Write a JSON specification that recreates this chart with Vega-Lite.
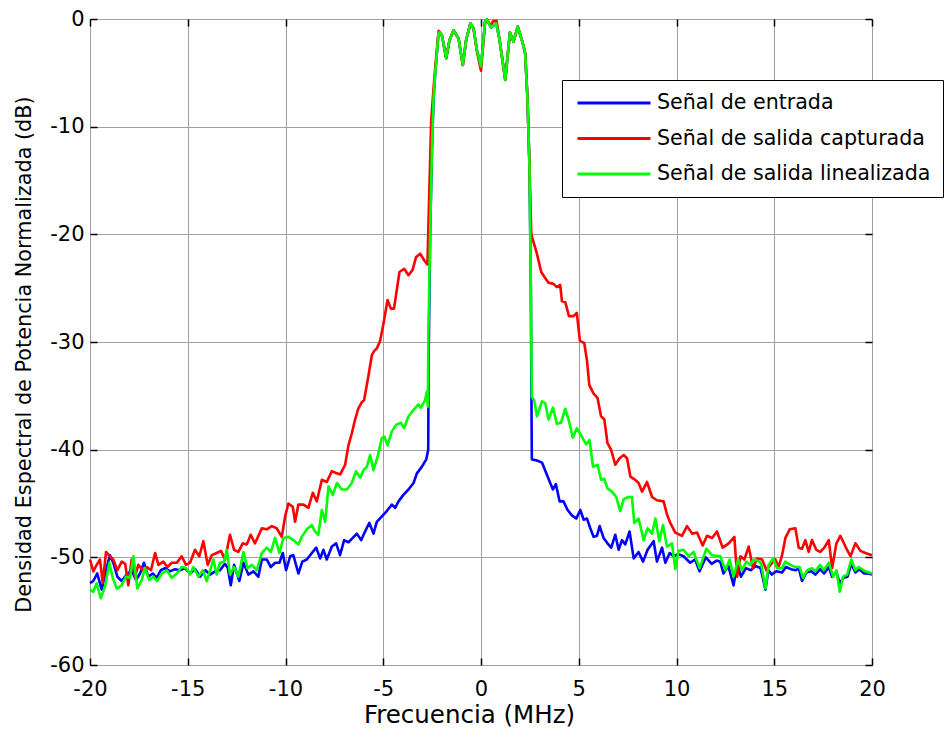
{
"$schema": "https://vega.github.io/schema/vega-lite/v6.json",
"width": 782, "height": 646,
"autosize": {"type": "none"},
"padding": {"left": 90, "top": 19, "right": 72, "bottom": 66},
"background": "white",
"config": {
  "view": {"stroke": "#000", "strokeWidth": 1},
  "font": "DejaVu Sans",
  "axis": {"labelFont": "DejaVu Sans", "titleFont": "DejaVu Sans", "labelColor": "#000", "titleColor": "#000", "titleFontWeight": "normal", "tickColor": "#000"},
  "legend": {"orient": "none", "legendX": 472, "legendY": 61, "symbolType": "M-4,0H4", "symbolSize": 333, "symbolStrokeWidth": 3, "labelFont": "DejaVu Sans", "labelFontSize": 20.6, "labelColor": "#000", "labelOffset": 32, "rowPadding": 13.5, "padding": 12, "symbolOffset": 29, "strokeColor": "#000", "fillColor": "#fff", "labelLimit": 500}
},
"datasets": {
"entrada": [
{"f":-20,"p":-52.4},{"f":-19.83,"p":-52.2},{"f":-19.63,"p":-51.5},{"f":-19.4,"p":-53.0},{"f":-19.18,"p":-51.2},{"f":-18.98,"p":-49.8},{"f":-18.81,"p":-50.5},{"f":-18.6,"p":-51.8},{"f":-18.38,"p":-52.2},{"f":-18.12,"p":-51.6},{"f":-17.87,"p":-51.2},{"f":-17.65,"p":-52.1},{"f":-17.44,"p":-51.5},{"f":-17.24,"p":-50.5},{"f":-17.02,"p":-51.8},{"f":-16.79,"p":-51.5},{"f":-16.59,"p":-51.9},{"f":-16.38,"p":-51.2},{"f":-16.16,"p":-51.0},{"f":-15.91,"p":-51.3},{"f":-15.65,"p":-51.1},{"f":-15.39,"p":-51.2},{"f":-15.15,"p":-51.0},{"f":-14.88,"p":-51.5},{"f":-14.62,"p":-51.1},{"f":-14.37,"p":-51.8},{"f":-14.1,"p":-51.2},{"f":-13.86,"p":-51.6},{"f":-13.6,"p":-51.3},{"f":-13.35,"p":-51.2},{"f":-13.1,"p":-50.6},{"f":-12.95,"p":-51.0},{"f":-12.8,"p":-52.6},{"f":-12.63,"p":-50.7},{"f":-12.36,"p":-52.2},{"f":-12.15,"p":-50.5},{"f":-11.9,"p":-51.6},{"f":-11.64,"p":-51.3},{"f":-11.39,"p":-51.8},{"f":-11.21,"p":-50.2},{"f":-10.96,"p":-50.2},{"f":-10.75,"p":-50.9},{"f":-10.53,"p":-50.5},{"f":-10.31,"p":-50.5},{"f":-10.14,"p":-49.6},{"f":-9.97,"p":-51.2},{"f":-9.76,"p":-49.9},{"f":-9.6,"p":-49.8},{"f":-9.34,"p":-51.5},{"f":-9.14,"p":-50.4},{"f":-8.91,"p":-50.2},{"f":-8.65,"p":-49.6},{"f":-8.43,"p":-49.1},{"f":-8.23,"p":-50.1},{"f":-8.06,"p":-49.3},{"f":-7.89,"p":-50.2},{"f":-7.63,"p":-49.0},{"f":-7.41,"p":-48.7},{"f":-7.21,"p":-49.8},{"f":-7.0,"p":-48.4},{"f":-6.78,"p":-48.6},{"f":-6.56,"p":-48.2},{"f":-6.35,"p":-47.8},{"f":-6.13,"p":-48.4},{"f":-5.93,"p":-47.6},{"f":-5.71,"p":-46.8},{"f":-5.5,"p":-47.8},{"f":-5.33,"p":-46.7},{"f":-5.07,"p":-46.2},{"f":-4.82,"p":-45.7},{"f":-4.56,"p":-45.1},{"f":-4.39,"p":-45.4},{"f":-4.22,"p":-44.8},{"f":-3.97,"p":-44.2},{"f":-3.71,"p":-43.7},{"f":-3.45,"p":-43.1},{"f":-3.28,"p":-42.2},{"f":-3.03,"p":-41.6},{"f":-2.8,"p":-40.9},{"f":-2.7,"p":-40.0},{"f":-2.68,"p":-32.0},{"f":-2.6,"p":-19.9},{"f":-2.51,"p":-12.2},{"f":-2.43,"p":-7.5},{"f":-2.34,"p":-5.0},
{"f":-2.17,"p":-1.24},{"f":-2.0,"p":-1.5},{"f":-1.78,"p":-3.65},{"f":-1.61,"p":-1.95},{"f":-1.4,"p":-1.05},{"f":-1.15,"p":-1.8},{"f":-0.93,"p":-4.27},{"f":-0.76,"p":-1.95},{"f":-0.54,"p":-0.4},{"f":-0.38,"p":-0.87},{"f":-0.21,"p":-2.88},{"f":0.0,"p":-4.4},{"f":0.21,"p":-0.2},{"f":0.3,"p":-0.05},{"f":0.52,"p":-0.8},{"f":0.78,"p":-0.4},{"f":0.95,"p":-1.95},{"f":1.24,"p":-5.66},{"f":1.48,"p":-1.25},{"f":1.66,"p":-2.1},{"f":1.88,"p":-0.7},{"f":2.14,"p":-2.26},{"f":2.26,"p":-3.2},
{"f":2.38,"p":-7.5},{"f":2.48,"p":-13.7},{"f":2.55,"p":-25.0},{"f":2.58,"p":-35.0},{"f":2.6,"p":-40.9},{"f":2.86,"p":-41.0},{"f":3.12,"p":-41.2},{"f":3.34,"p":-42.2},{"f":3.54,"p":-43.1},{"f":3.68,"p":-43.7},{"f":3.83,"p":-43.2},{"f":4.02,"p":-44.8},{"f":4.22,"p":-44.8},{"f":4.43,"p":-45.6},{"f":4.65,"p":-46.1},{"f":4.87,"p":-46.4},{"f":5.08,"p":-45.6},{"f":5.25,"p":-46.5},{"f":5.42,"p":-46.4},{"f":5.59,"p":-47.3},{"f":5.76,"p":-48.1},{"f":5.93,"p":-48.0},{"f":6.07,"p":-47.1},{"f":6.27,"p":-48.2},{"f":6.47,"p":-48.7},{"f":6.66,"p":-49.1},{"f":6.87,"p":-47.9},{"f":7.04,"p":-49.3},{"f":7.21,"p":-48.4},{"f":7.38,"p":-48.8},{"f":7.6,"p":-47.6},{"f":7.81,"p":-50.1},{"f":8.06,"p":-49.5},{"f":8.29,"p":-50.4},{"f":8.52,"p":-49.3},{"f":8.83,"p":-48.5},{"f":9.0,"p":-50.4},{"f":9.26,"p":-49.1},{"f":9.43,"p":-50.5},{"f":9.65,"p":-49.6},{"f":9.85,"p":-49.9},{"f":10.1,"p":-49.7},{"f":10.36,"p":-49.9},{"f":10.7,"p":-50.5},{"f":10.95,"p":-50.2},{"f":11.18,"p":-51.3},{"f":11.5,"p":-50.0},{"f":11.8,"p":-50.6},{"f":12.05,"p":-50.3},{"f":12.24,"p":-50.4},{"f":12.4,"p":-51.5},{"f":12.65,"p":-50.8},{"f":12.92,"p":-52.6},{"f":13.1,"p":-50.6},{"f":13.3,"p":-51.8},{"f":13.55,"p":-51.0},{"f":13.8,"p":-51.2},{"f":14.05,"p":-50.8},{"f":14.3,"p":-51.0},{"f":14.55,"p":-53.0},{"f":14.7,"p":-51.2},{"f":14.88,"p":-51.6},{"f":15.1,"p":-51.3},{"f":15.4,"p":-51.4},{"f":15.6,"p":-50.9},{"f":15.85,"p":-51.1},{"f":16.1,"p":-51.2},{"f":16.25,"p":-51.0},{"f":16.42,"p":-52.2},{"f":16.65,"p":-51.4},{"f":16.9,"p":-51.3},{"f":17.1,"p":-51.6},{"f":17.35,"p":-51.1},{"f":17.55,"p":-51.5},{"f":17.79,"p":-50.9},{"f":17.96,"p":-51.8},{"f":18.18,"p":-51.4},{"f":18.35,"p":-52.4},{"f":18.55,"p":-51.9},{"f":18.75,"p":-51.8},{"f":18.94,"p":-50.6},{"f":19.15,"p":-51.4},{"f":19.35,"p":-51.1},{"f":19.6,"p":-51.5},{"f":19.8,"p":-51.5},{"f":20,"p":-51.6}
],
"capturada": [
{"f":-20,"p":-50.2},{"f":-19.83,"p":-51.3},{"f":-19.66,"p":-50.7},{"f":-19.49,"p":-50.2},{"f":-19.35,"p":-52.4},{"f":-19.18,"p":-49.5},{"f":-18.98,"p":-49.9},{"f":-18.81,"p":-50.2},{"f":-18.6,"p":-51.2},{"f":-18.38,"p":-50.4},{"f":-18.2,"p":-50.6},{"f":-18.04,"p":-52.6},{"f":-17.87,"p":-50.2},{"f":-17.7,"p":-51.8},{"f":-17.53,"p":-50.7},{"f":-17.3,"p":-51.2},{"f":-17.1,"p":-50.9},{"f":-16.88,"p":-51.2},{"f":-16.67,"p":-49.6},{"f":-16.5,"p":-50.7},{"f":-16.25,"p":-50.4},{"f":-16.04,"p":-50.9},{"f":-15.82,"p":-50.5},{"f":-15.56,"p":-50.5},{"f":-15.31,"p":-49.9},{"f":-15.09,"p":-50.7},{"f":-14.88,"p":-50.5},{"f":-14.63,"p":-49.3},{"f":-14.41,"p":-49.9},{"f":-14.2,"p":-48.5},{"f":-13.98,"p":-50.7},{"f":-13.77,"p":-49.8},{"f":-13.52,"p":-49.6},{"f":-13.3,"p":-49.4},{"f":-13.09,"p":-50.2},{"f":-12.84,"p":-47.9},{"f":-12.63,"p":-49.3},{"f":-12.41,"p":-49.5},{"f":-12.19,"p":-48.7},{"f":-11.98,"p":-48.8},{"f":-11.78,"p":-47.9},{"f":-11.56,"p":-48.7},{"f":-11.21,"p":-47.3},{"f":-10.96,"p":-47.4},{"f":-10.7,"p":-47.1},{"f":-10.45,"p":-47.3},{"f":-10.19,"p":-48.1},{"f":-10.02,"p":-46.2},{"f":-9.85,"p":-45.0},{"f":-9.63,"p":-45.3},{"f":-9.51,"p":-46.7},{"f":-9.34,"p":-45.1},{"f":-9.08,"p":-45.1},{"f":-8.83,"p":-45.4},{"f":-8.6,"p":-44.0},{"f":-8.4,"p":-44.8},{"f":-8.14,"p":-42.8},{"f":-7.89,"p":-43.0},{"f":-7.63,"p":-42.0},{"f":-7.37,"p":-42.2},{"f":-7.2,"p":-42.3},{"f":-6.95,"p":-41.4},{"f":-6.78,"p":-39.6},{"f":-6.61,"p":-38.5},{"f":-6.44,"p":-37.2},{"f":-6.28,"p":-36.2},{"f":-6.1,"p":-35.6},{"f":-5.98,"p":-35.4},{"f":-5.84,"p":-34.0},{"f":-5.7,"p":-32.5},{"f":-5.58,"p":-31.2},{"f":-5.45,"p":-30.8},{"f":-5.33,"p":-30.6},{"f":-5.16,"p":-29.9},{"f":-4.99,"p":-28.3},{"f":-4.78,"p":-26.1},{"f":-4.61,"p":-26.9},{"f":-4.45,"p":-26.9},{"f":-4.17,"p":-23.5},{"f":-3.93,"p":-23.2},{"f":-3.71,"p":-23.8},{"f":-3.5,"p":-23.3},{"f":-3.32,"p":-22.1},{"f":-3.11,"p":-21.8},{"f":-2.91,"p":-22.4},{"f":-2.74,"p":-22.8},{"f":-2.65,"p":-16.5},{"f":-2.55,"p":-9.5},{"f":-2.43,"p":-6.5},{"f":-2.34,"p":-4.5},
{"f":-2.17,"p":-1.1},{"f":-2.0,"p":-1.5},{"f":-1.78,"p":-3.65},{"f":-1.61,"p":-1.95},{"f":-1.4,"p":-1.05},{"f":-1.15,"p":-1.8},{"f":-0.93,"p":-4.27},{"f":-0.76,"p":-1.95},{"f":-0.54,"p":-0.4},{"f":-0.38,"p":-0.9},{"f":-0.21,"p":-3.0},{"f":0.0,"p":-4.8},{"f":0.21,"p":-0.3},{"f":0.3,"p":-0.05},{"f":0.5,"p":-0.6},{"f":0.62,"p":-0.2},{"f":0.8,"p":-0.2},{"f":0.95,"p":-1.95},{"f":1.24,"p":-5.66},{"f":1.48,"p":-1.25},{"f":1.66,"p":-2.1},{"f":1.88,"p":-0.7},{"f":2.14,"p":-2.26},{"f":2.26,"p":-3.2},
{"f":2.38,"p":-7.5},{"f":2.48,"p":-13.7},{"f":2.57,"p":-19.9},{"f":2.62,"p":-20.3},{"f":2.86,"p":-21.8},{"f":3.08,"p":-23.5},{"f":3.3,"p":-24.1},{"f":3.45,"p":-24.5},{"f":3.71,"p":-24.6},{"f":3.88,"p":-24.9},{"f":4.05,"p":-24.7},{"f":4.14,"p":-26.2},{"f":4.31,"p":-26.3},{"f":4.5,"p":-27.6},{"f":4.73,"p":-27.6},{"f":4.9,"p":-27.3},{"f":5.06,"p":-29.9},{"f":5.28,"p":-30.1},{"f":5.42,"p":-31.7},{"f":5.54,"p":-34.0},{"f":5.76,"p":-34.8},{"f":5.96,"p":-35.2},{"f":6.14,"p":-36.9},{"f":6.31,"p":-37.2},{"f":6.47,"p":-39.4},{"f":6.65,"p":-40.0},{"f":6.87,"p":-41.4},{"f":7.09,"p":-40.8},{"f":7.3,"p":-40.5},{"f":7.47,"p":-40.8},{"f":7.64,"p":-42.5},{"f":7.89,"p":-42.8},{"f":8.06,"p":-43.1},{"f":8.24,"p":-43.9},{"f":8.49,"p":-43.0},{"f":8.75,"p":-44.4},{"f":9.0,"p":-44.7},{"f":9.34,"p":-44.8},{"f":9.51,"p":-46.0},{"f":9.68,"p":-46.8},{"f":9.94,"p":-47.7},{"f":10.28,"p":-48.0},{"f":10.54,"p":-47.1},{"f":10.8,"p":-47.8},{"f":11.05,"p":-47.7},{"f":11.34,"p":-48.9},{"f":11.56,"p":-48.0},{"f":11.82,"p":-48.2},{"f":12.07,"p":-47.6},{"f":12.36,"p":-49.1},{"f":12.67,"p":-48.7},{"f":12.96,"p":-48.1},{"f":13.1,"p":-51.8},{"f":13.27,"p":-49.9},{"f":13.47,"p":-50.2},{"f":13.69,"p":-49.0},{"f":13.91,"p":-51.0},{"f":14.12,"p":-50.1},{"f":14.38,"p":-50.2},{"f":14.6,"p":-51.2},{"f":14.8,"p":-50.7},{"f":15.06,"p":-50.2},{"f":15.22,"p":-50.9},{"f":15.4,"p":-49.8},{"f":15.57,"p":-48.2},{"f":15.79,"p":-47.4},{"f":16.08,"p":-47.3},{"f":16.25,"p":-49.1},{"f":16.42,"p":-49.2},{"f":16.59,"p":-48.4},{"f":16.76,"p":-49.5},{"f":16.93,"p":-48.4},{"f":17.15,"p":-49.3},{"f":17.36,"p":-49.5},{"f":17.56,"p":-49.1},{"f":17.79,"p":-48.4},{"f":17.96,"p":-51.0},{"f":18.18,"p":-48.7},{"f":18.38,"p":-48.0},{"f":18.64,"p":-49.0},{"f":18.9,"p":-49.9},{"f":19.15,"p":-48.7},{"f":19.41,"p":-49.4},{"f":19.66,"p":-49.6},{"f":20,"p":-49.8}
],
"linealizada": [
{"f":-20,"p":-53.0},{"f":-19.83,"p":-53.2},{"f":-19.66,"p":-52.4},{"f":-19.45,"p":-53.8},{"f":-19.23,"p":-52.7},{"f":-19.01,"p":-50.5},{"f":-18.84,"p":-51.9},{"f":-18.63,"p":-52.9},{"f":-18.38,"p":-52.6},{"f":-18.16,"p":-51.8},{"f":-17.95,"p":-51.9},{"f":-17.78,"p":-49.9},{"f":-17.58,"p":-52.9},{"f":-17.35,"p":-52.1},{"f":-17.19,"p":-51.0},{"f":-16.97,"p":-52.1},{"f":-16.76,"p":-51.8},{"f":-16.56,"p":-52.2},{"f":-16.33,"p":-51.5},{"f":-16.07,"p":-51.2},{"f":-15.82,"p":-51.9},{"f":-15.56,"p":-51.5},{"f":-15.31,"p":-50.9},{"f":-15.09,"p":-51.0},{"f":-14.88,"p":-51.6},{"f":-14.71,"p":-50.9},{"f":-14.46,"p":-51.8},{"f":-14.23,"p":-51.2},{"f":-14.03,"p":-52.2},{"f":-13.82,"p":-51.0},{"f":-13.69,"p":-50.2},{"f":-13.52,"p":-51.6},{"f":-13.35,"p":-50.5},{"f":-13.14,"p":-50.4},{"f":-13.0,"p":-49.3},{"f":-12.84,"p":-51.6},{"f":-12.63,"p":-50.9},{"f":-12.41,"p":-51.8},{"f":-12.15,"p":-49.5},{"f":-11.95,"p":-51.0},{"f":-11.72,"p":-50.7},{"f":-11.47,"p":-51.2},{"f":-11.21,"p":-49.6},{"f":-10.96,"p":-49.1},{"f":-10.75,"p":-49.5},{"f":-10.53,"p":-48.2},{"f":-10.31,"p":-49.6},{"f":-10.11,"p":-48.2},{"f":-9.85,"p":-48.1},{"f":-9.6,"p":-48.4},{"f":-9.34,"p":-48.8},{"f":-9.17,"p":-48.1},{"f":-8.91,"p":-47.4},{"f":-8.65,"p":-47.0},{"f":-8.49,"p":-47.6},{"f":-8.32,"p":-47.9},{"f":-8.14,"p":-45.6},{"f":-7.97,"p":-46.7},{"f":-7.8,"p":-43.4},{"f":-7.58,"p":-44.2},{"f":-7.37,"p":-43.1},{"f":-7.12,"p":-43.7},{"f":-6.86,"p":-43.7},{"f":-6.61,"p":-43.1},{"f":-6.39,"p":-42.0},{"f":-6.18,"p":-42.6},{"f":-6.01,"p":-41.9},{"f":-5.84,"p":-41.6},{"f":-5.67,"p":-40.5},{"f":-5.5,"p":-41.9},{"f":-5.28,"p":-40.6},{"f":-5.07,"p":-38.9},{"f":-4.94,"p":-38.8},{"f":-4.78,"p":-39.6},{"f":-4.56,"p":-38.3},{"f":-4.34,"p":-37.7},{"f":-4.1,"p":-37.5},{"f":-3.93,"p":-38.0},{"f":-3.71,"p":-36.9},{"f":-3.45,"p":-36.3},{"f":-3.2,"p":-35.8},{"f":-3.08,"p":-36.1},{"f":-2.86,"p":-35.4},{"f":-2.77,"p":-34.6},{"f":-2.72,"p":-36.0},{"f":-2.69,"p":-29.2},{"f":-2.6,"p":-19.9},{"f":-2.51,"p":-12.2},{"f":-2.43,"p":-7.5},{"f":-2.34,"p":-5.0},
{"f":-2.17,"p":-1.24},{"f":-2.0,"p":-1.5},{"f":-1.78,"p":-3.65},{"f":-1.61,"p":-1.95},{"f":-1.4,"p":-1.05},{"f":-1.15,"p":-1.8},{"f":-0.93,"p":-4.27},{"f":-0.76,"p":-1.95},{"f":-0.54,"p":-0.4},{"f":-0.38,"p":-0.87},{"f":-0.21,"p":-2.88},{"f":0.0,"p":-4.4},{"f":0.21,"p":-0.2},{"f":0.3,"p":-0.05},{"f":0.52,"p":-0.8},{"f":0.78,"p":-0.4},{"f":0.95,"p":-1.95},{"f":1.24,"p":-5.66},{"f":1.48,"p":-1.25},{"f":1.66,"p":-2.1},{"f":1.88,"p":-0.7},{"f":2.14,"p":-2.26},{"f":2.26,"p":-3.2},
{"f":2.38,"p":-7.5},{"f":2.48,"p":-13.7},{"f":2.55,"p":-25.0},{"f":2.6,"p":-35.1},{"f":2.72,"p":-35.4},{"f":2.86,"p":-36.9},{"f":3.12,"p":-35.5},{"f":3.29,"p":-35.7},{"f":3.45,"p":-37.2},{"f":3.68,"p":-36.1},{"f":3.88,"p":-37.6},{"f":4.09,"p":-37.5},{"f":4.31,"p":-36.2},{"f":4.48,"p":-37.2},{"f":4.7,"p":-38.9},{"f":4.9,"p":-38.0},{"f":5.16,"p":-38.8},{"f":5.38,"p":-39.5},{"f":5.55,"p":-39.1},{"f":5.73,"p":-41.6},{"f":5.96,"p":-41.4},{"f":6.14,"p":-42.8},{"f":6.3,"p":-42.7},{"f":6.47,"p":-43.6},{"f":6.7,"p":-43.9},{"f":6.92,"p":-44.4},{"f":7.12,"p":-45.7},{"f":7.3,"p":-44.6},{"f":7.55,"p":-44.4},{"f":7.72,"p":-44.4},{"f":7.84,"p":-46.8},{"f":8.06,"p":-46.4},{"f":8.32,"p":-48.4},{"f":8.52,"p":-47.3},{"f":8.75,"p":-47.8},{"f":8.92,"p":-46.4},{"f":9.12,"p":-48.5},{"f":9.31,"p":-47.0},{"f":9.51,"p":-49.0},{"f":9.77,"p":-48.7},{"f":9.94,"p":-51.1},{"f":10.1,"p":-49.4},{"f":10.36,"p":-49.3},{"f":10.62,"p":-49.9},{"f":10.88,"p":-49.5},{"f":11.18,"p":-51.0},{"f":11.53,"p":-49.2},{"f":11.82,"p":-49.8},{"f":12.24,"p":-49.9},{"f":12.5,"p":-51.2},{"f":12.72,"p":-50.2},{"f":12.92,"p":-51.8},{"f":13.15,"p":-50.2},{"f":13.35,"p":-51.2},{"f":13.57,"p":-50.4},{"f":13.78,"p":-50.7},{"f":13.95,"p":-50.2},{"f":14.15,"p":-50.3},{"f":14.32,"p":-50.5},{"f":14.55,"p":-52.9},{"f":14.71,"p":-50.7},{"f":14.94,"p":-50.1},{"f":15.14,"p":-51.0},{"f":15.4,"p":-51.0},{"f":15.57,"p":-50.4},{"f":15.82,"p":-50.7},{"f":16.08,"p":-50.9},{"f":16.3,"p":-50.9},{"f":16.47,"p":-51.9},{"f":16.68,"p":-51.2},{"f":16.93,"p":-51.0},{"f":17.1,"p":-51.3},{"f":17.33,"p":-50.7},{"f":17.53,"p":-51.2},{"f":17.79,"p":-50.5},{"f":18.01,"p":-51.8},{"f":18.18,"p":-51.2},{"f":18.35,"p":-53.2},{"f":18.52,"p":-51.8},{"f":18.73,"p":-51.6},{"f":18.94,"p":-50.2},{"f":19.15,"p":-51.2},{"f":19.32,"p":-50.9},{"f":19.66,"p":-51.3},{"f":20,"p":-51.5}
]
},
"layer": [
{
  "data": {"name": "entrada"},
  "mark": {"type": "line", "strokeWidth": 2.6, "strokeJoin": "round"},
  "encoding": {
    "x": {"field": "f", "type": "quantitative", "scale": {"domain": [-20, 20], "nice": false},
      "axis": {"title": "Frecuencia (MHz)", "values": [-20,-15,-10,-5,0,5,10,15,20], "labelExpr": "toString(datum.value)", "grid": true, "gridColor": "#a0a0a0", "gridOpacity": 1, "ticks": false, "domain": false, "labelFontSize": 21, "labelPadding": 13, "labelFlush": false, "labelOverlap": false, "titleFontSize": 24.5, "titlePadding": 4, "titleX": 379}},
    "y": {"field": "p", "type": "quantitative", "scale": {"domain": [-60, 0], "nice": false},
      "axis": {"title": "Densidad Espectral de Potencia Normalizada (dB)", "values": [-60,-50,-40,-30,-20,-10,0], "labelExpr": "toString(datum.value)", "grid": true, "gridColor": "#a0a0a0", "gridOpacity": 1, "ticks": false, "domain": false, "labelFontSize": 21, "labelPadding": 6, "labelOverlap": false, "titleFontSize": 20.8, "titlePadding": 15, "titleY": 335}},
    "color": {"datum": "Señal de entrada", "type": "nominal", "scale": {"domain": ["Señal de entrada", "Señal de salida capturada", "Señal de salida linealizada"], "range": ["#0000ff", "#ff0000", "#00ff00"]}, "title": null}
  }
},
{
  "data": {"name": "capturada"},
  "mark": {"type": "line", "strokeWidth": 2.6, "strokeJoin": "round"},
  "encoding": {
    "x": {"field": "f", "type": "quantitative", "scale": {"domain": [-20, 20], "nice": false},
      "axis": {"orient": "top", "offset": -7, "tickSize": 7, "tickWidth": 1.5, "values": [-20,-15,-10,-5,0,5,10,15,20], "grid": false, "domain": false, "labels": false, "title": null}},
    "y": {"field": "p", "type": "quantitative", "scale": {"domain": [-60, 0], "nice": false},
      "axis": {"orient": "right", "offset": -7, "tickSize": 7, "tickWidth": 1.5, "values": [-60,-50,-40,-30,-20,-10,0], "grid": false, "domain": false, "labels": false, "title": null}},
    "color": {"datum": "Señal de salida capturada", "type": "nominal", "title": null}
  }
},
{
  "data": {"name": "linealizada"},
  "mark": {"type": "line", "strokeWidth": 2.6, "strokeJoin": "round"},
  "encoding": {
    "x": {"field": "f", "type": "quantitative", "scale": {"domain": [-20, 20], "nice": false},
      "axis": {"orient": "bottom", "offset": -7, "tickSize": 7, "tickWidth": 1.5, "values": [-20,-15,-10,-5,0,5,10,15,20], "grid": false, "domain": false, "labels": false, "title": null}},
    "y": {"field": "p", "type": "quantitative", "scale": {"domain": [-60, 0], "nice": false},
      "axis": {"orient": "left", "offset": -7, "tickSize": 7, "tickWidth": 1.5, "values": [-60,-50,-40,-30,-20,-10,0], "grid": false, "domain": false, "labels": false, "title": null}},
    "color": {"datum": "Señal de salida linealizada", "type": "nominal", "title": null}
  }
}
],
"resolve": {"axis": {"x": "independent", "y": "independent"}}
}
